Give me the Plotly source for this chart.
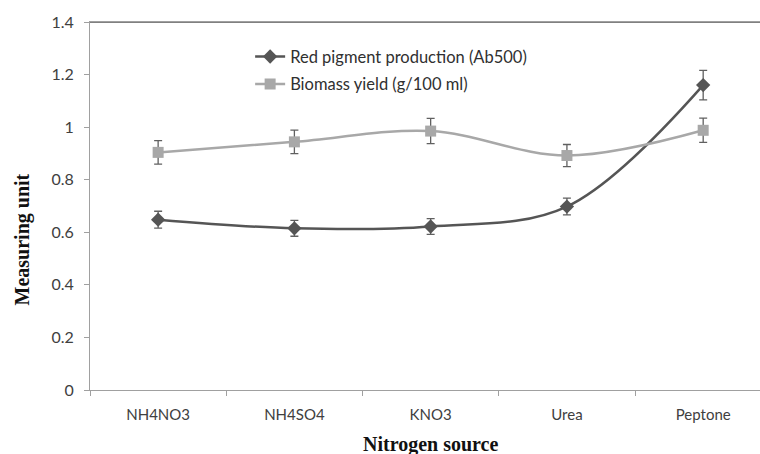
import plotly.graph_objects as go

categories = ["NH4NO3", "NH4SO4", "KNO3", "Urea", "Peptone"]
pigment = [0.648, 0.615, 0.622, 0.698, 1.160]
pigment_err = [0.032, 0.030, 0.030, 0.032, 0.056]
biomass = [0.904, 0.944, 0.985, 0.892, 0.988]
biomass_err = [0.045, 0.045, 0.048, 0.042, 0.046]
y_ticks = [0, 0.2, 0.4, 0.6, 0.8, 1.0, 1.2, 1.4]

font_main = "Lato, 'Open Sans', sans-serif"
font_title = "'Liberation Serif', 'Times New Roman', serif"

fig = go.Figure()
fig.add_trace(go.Scatter(
    x=categories, y=pigment, name="Red pigment production (Ab500)",
    legendgroup="pigment",
    mode="lines+markers",
    line=dict(color="#555555", width=2.5, shape="spline", smoothing=1),
    marker=dict(symbol="diamond", size=11, color="#555555"),
    error_y=dict(type="data", array=pigment_err, visible=True,
                 color="#606060", thickness=1.3, width=4),
))
fig.add_trace(go.Scatter(
    x=categories, y=biomass, name="Biomass yield (g/100 ml)",
    legendgroup="biomass",
    mode="lines+markers",
    line=dict(color="#A8A8A8", width=2.5, shape="spline", smoothing=1),
    marker=dict(symbol="square", size=11, color="#A8A8A8"),
    error_y=dict(type="data", array=biomass_err, visible=True,
                 color="#606060", thickness=1.3, width=4),
))

fig.update_layout(
    width=760, height=454,
    margin=dict(l=90, r=0, t=22, b=64),
    paper_bgcolor="white", plot_bgcolor="white",
    font=dict(family=font_main, size=15, color="#404040"),
    showlegend=True,
    legend=dict(x=0.239, y=0.953, xanchor="left", yanchor="top",
                bgcolor="rgba(0,0,0,0)", font=dict(size=16.5, color="#303030"),
                tracegroupgap=3, traceorder="grouped"),
)
fig.update_xaxes(
    type="category", range=[-0.5, 4.417],
    showline=True, linecolor="#A0A0A0", linewidth=1, mirror=True,
    ticks="outside", ticklen=5, tickcolor="#A0A0A0", tickson="boundaries",
    ticklabelstandoff=11,
    showgrid=False, zeroline=False, tickfont=dict(size=15, color="#404040"),
)
fig.update_yaxes(
    range=[0, 1.4], tickvals=y_ticks, ticktext=[f"{v:g}" for v in y_ticks],
    showline=True, linecolor="#A0A0A0", linewidth=1,
    ticks="outside", ticklen=5, tickcolor="#A0A0A0",
    ticklabelstandoff=7,
    showgrid=False, zeroline=False, tickfont=dict(size=16, color="#404040"),
)
fig.add_shape(type="line", xref="paper", yref="y", x0=0, x1=1, y0=1.4, y1=1.4,
              line=dict(color="#808080", width=2))

fig.add_annotation(text="<b>Measuring unit</b>", xref="paper", yref="paper",
                   x=-0.101, y=0.41, xanchor="center", yanchor="middle",
                   textangle=-90, showarrow=False,
                   font=dict(family=font_title, size=20, color="#111111"))
fig.add_annotation(text="<b>Nitrogen source</b>", xref="paper", yref="paper",
                   x=0.508, y=-0.148, xanchor="center", yanchor="middle",
                   showarrow=False,
                   font=dict(family=font_title, size=20, color="#111111"))

fig.write_html("out.html")
